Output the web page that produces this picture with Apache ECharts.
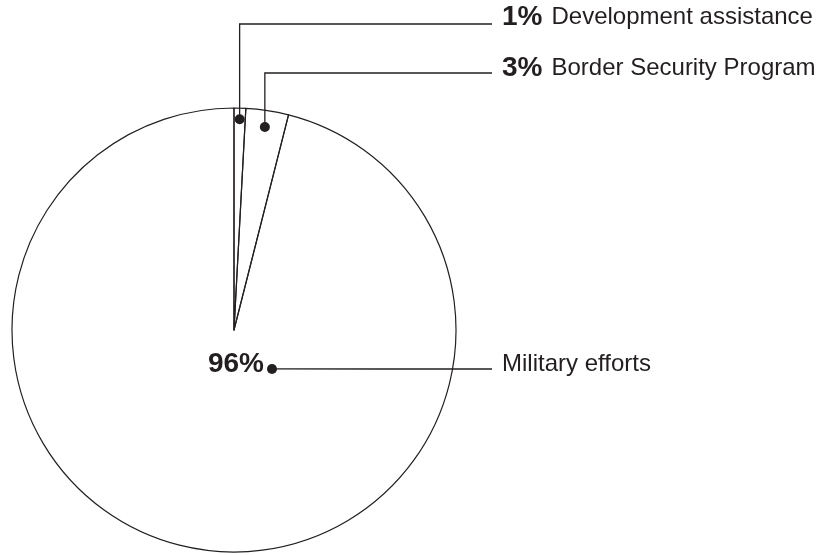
<!DOCTYPE html>
<html>
<head>
<meta charset="utf-8">
<script src="https://cdn.jsdelivr.net/npm/echarts@6/dist/echarts.min.js"></script>
<style>
html,body{margin:0;padding:0;background:#ffffff;}
#c{width:822px;height:555px;}
</style>
</head>
<body>
<div id="c"></div>
<script>
// ---- data ----
const categories = ['Development assistance', 'Border Security Program', 'Military efforts'];
const sliceValues = [0.85, 3.1, 96.05];
const percentLabels = ['1%', '3%', '96%'];

// ---- layout / style ----
const INK = '#231f20';
const CX = 234, CY = 330, R = 222;
const FONT = '"Liberation Sans", Arial, Helvetica, sans-serif';
const TEXT_X = 502, LINE_END_X = 492;
const labelCenterY = [17, 68, 364];
const leaderY = [24, 73, 369];
const dotRadial = [0.95, 0.925];          // dot position as fraction of radius (outer slices)
const bigDot = { angleDeg: 135.7, frac: 0.245 }; // dot for the big slice, polar from centre

const total = sliceValues.reduce((a, b) => a + b, 0);
let cum = 0;
const dots = sliceValues.map((v, i) => {
  const midFrac = (cum + v / 2) / total;
  cum += v;
  let ang, rr;
  if (i < 2) { ang = midFrac * 2 * Math.PI; rr = R * dotRadial[i]; }
  else { ang = bigDot.angleDeg * Math.PI / 180; rr = R * bigDot.frac; }
  return [CX + rr * Math.sin(ang), CY - rr * Math.cos(ang)];
});

const chart = echarts.init(document.getElementById('c'), null, { renderer: 'canvas' });

const data = categories.map((name, i) => ({
  name: name,
  value: sliceValues[i],
  label: {
    formatter: i < 2 ? ('{p|' + percentLabels[i] + '}{n|' + name + '}') : ('{n|' + name + '}')
  }
}));

chart.setOption({
  animation: false,
  backgroundColor: '#ffffff',
  series: [{
    type: 'pie',
    center: [CX, CY],
    radius: R,
    startAngle: 90,
    clockwise: true,
    avoidLabelOverlap: false,
    minShowLabelAngle: 0,
    silent: true,
    data: data,
    itemStyle: { color: 'rgba(255,255,255,0)', borderColor: INK, borderWidth: 1.2 },
    emphasis: { disabled: true },
    label: {
      show: true,
      position: 'outside',
      color: INK,
      rich: {
        p: { fontFamily: FONT, fontWeight: 'bold', fontSize: 28, color: INK, lineHeight: 30, padding: [0, 9, 0, 0] },
        n: { fontFamily: FONT, fontSize: 24, color: INK, lineHeight: 30 }
      }
    },
    labelLine: { show: true, length: 10, length2: 10, lineStyle: { color: INK, width: 1.3 } },
    labelLayout: function (params) {
      const i = params.dataIndex;
      const d = dots[i];
      let pts;
      if (i < 2) {
        pts = [[d[0], d[1]], [d[0], leaderY[i]], [LINE_END_X, leaderY[i]]];
      } else {
        pts = [[d[0], d[1]], [(d[0] + LINE_END_X) / 2, leaderY[i]], [LINE_END_X, leaderY[i]]];
      }
      return {
        x: TEXT_X,
        y: labelCenterY[i],
        align: 'left',
        verticalAlign: 'middle',
        labelLinePoints: pts
      };
    }
  }],
  graphic: dots.map(d => ({
    type: 'circle',
    shape: { cx: d[0], cy: d[1], r: 5 },
    style: { fill: INK },
    z: 100
  })).concat([{
    type: 'text',
    x: dots[2][0] - 8,
    y: labelCenterY[2],
    style: {
      text: percentLabels[2],
      font: 'bold 28px ' + FONT,
      fill: INK,
      align: 'right',
      verticalAlign: 'middle'
    },
    z: 100
  }])
});
</script>
</body>
</html>
